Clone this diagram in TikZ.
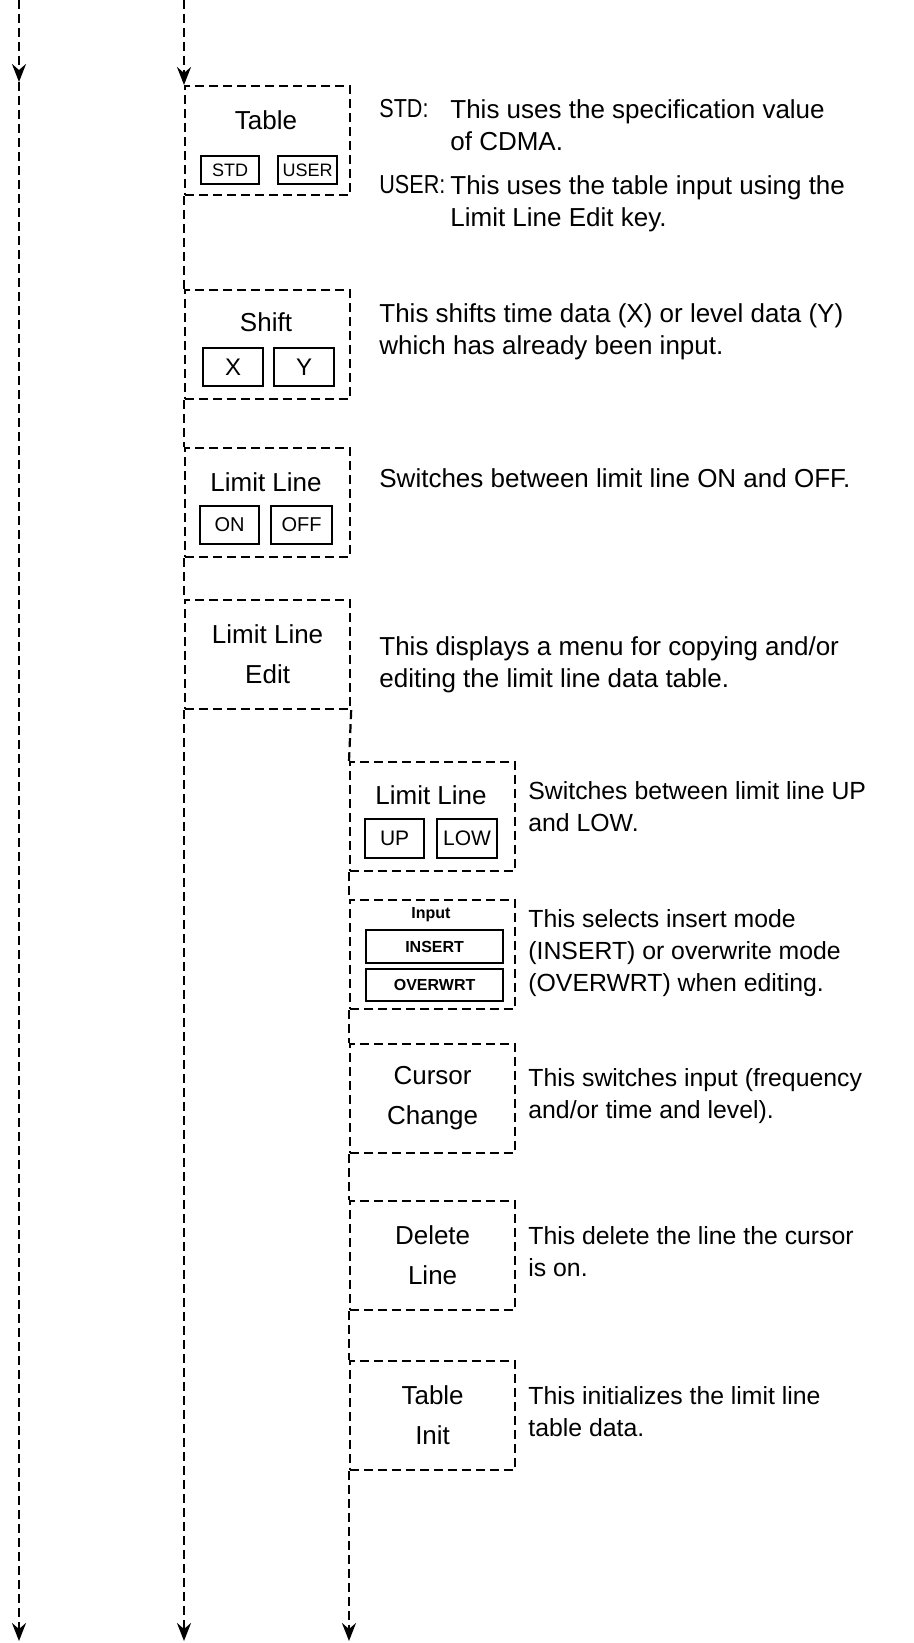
\documentclass[tikz,border=0pt]{standalone}
\usepackage{fontspec}
\setmainfont{Liberation Sans}
\newfontfamily\keyfont[FakeStretch=0.83]{Liberation Sans}
\usetikzlibrary{arrows.meta}

\tikzset{
  menubox/.style={draw, line width=1.1pt, dash pattern=on 4.5pt off 2.5pt,
    minimum width=82.5pt, minimum height=54.5pt, inner sep=0pt, anchor=north west},
  keybox/.style={draw, solid, line width=1.1pt, inner sep=0pt, anchor=north west},
  flow/.style={line width=1.1pt, dash pattern=on 4.5pt off 2.5pt},
  flowarrow/.style={flow, -{Stealth[length=9pt,width=7pt,inset=3pt]}},
  boxlabel/.style={font=\fontsize{13}{20}\selectfont, align=center},
  desc/.style={font=\fontsize{13}{16}\selectfont, align=left, anchor=north west, inner sep=0pt},
  subdesc/.style={desc, font=\fontsize{12.4}{16}\selectfont}
}

\begin{document}
\begin{tikzpicture}[x=0.5pt,y=-0.5pt]
  \useasboundingbox (0,0) rectangle (914,1643);

  % outer flow lines
  \coordinate (l0) at (19,0);
  \coordinate (l1) at (19,82);
  \coordinate (l2) at (19,1641);
  \coordinate (m0) at (184,0);
  \coordinate (m2) at (184,1641);
  \coordinate (r2) at (349,1641);

  % first level menu
  \node[menubox] (tbl) at (184,85) {};
  \node[boxlabel] (tbltxt) at (266,120) {Table};
  \node[keybox, minimum width=29pt, minimum height=14pt, font=\fontsize{9}{9}\selectfont] (std) at (200,155) {STD};
  \node[keybox, minimum width=29.5pt, minimum height=14pt, font=\fontsize{9}{9}\selectfont] (user) at (277,155) {USER};

  \node[menubox] (shft) at (184,289) {};
  \node[boxlabel] (shfttxt) at (266,322) {Shift};
  \node[keybox, minimum width=30pt, minimum height=19pt, font=\fontsize{12}{12}\selectfont] (xkey) at (202,347) {X};
  \node[keybox, minimum width=30pt, minimum height=19pt, font=\fontsize{12}{12}\selectfont] (ykey) at (273,347) {Y};

  \node[menubox] (onoff) at (184,447) {};
  \node[boxlabel] (onofftxt) at (266,482) {Limit Line};
  \node[keybox, minimum width=29.5pt, minimum height=19pt, font=\fontsize{10}{10}\selectfont] (on) at (199,505) {ON};
  \node[keybox, minimum width=30.5pt, minimum height=19pt, font=\fontsize{10}{10}\selectfont] (off) at (270,505) {OFF};

  \node[menubox] (lle) at (184,599) {};
  \node[boxlabel] (lletxt) at (lle.center) {Limit Line\\Edit};

  % edit sub menu
  \node[menubox] (updown) at (349,761) {};
  \node[boxlabel] (updowntxt) at (431,795) {Limit Line};
  \node[keybox, minimum width=29.5pt, minimum height=19.5pt, font=\fontsize{10.5}{10.5}\selectfont] (up) at (364,818) {UP};
  \node[keybox, minimum width=30pt, minimum height=19.5pt, font=\fontsize{10.5}{10.5}\selectfont] (low) at (436,818) {LOW};

  \node[menubox] (inmode) at (349,899) {};
  \node[font=\fontsize{8}{8}\selectfont\bfseries] (inmodetxt) at (431,915) {Input};
  \node[keybox, minimum width=68.5pt, minimum height=16.5pt, font=\fontsize{8}{8}\selectfont\bfseries] (insert) at (365,929) {INSERT};
  \node[keybox, minimum width=68.5pt, minimum height=16pt, font=\fontsize{8}{8}\selectfont\bfseries] (ovwrt) at (365,968) {OVERWRT};

  \node[menubox] (cursor) at (349,1043) {};
  \node[boxlabel] (cursortxt) at (cursor.center) {Cursor\\Change};

  \node[menubox] (dline) at (349,1200) {};
  \node[boxlabel] (dlinetxt) at (dline.center) {Delete\\Line};

  \node[menubox] (tinit) at (349,1360) {};
  \node[boxlabel] (tinittxt) at (tinit.center) {Table\\Init};

  % connectors
  \draw[flowarrow] (l0) -- (l1);
  \draw[flowarrow] (l1) -- (l2);
  \draw[flowarrow] (m0) -- (tbl.north west);
  \draw[flow] (tbl.south west) -- (shft.north west);
  \draw[flow] (shft.south west) -- (onoff.north west);
  \draw[flow] (onoff.south west) -- (lle.north west);
  \draw[flowarrow] (lle.south west) -- (m2);
  \draw[flow] (lle.south east) -- (updown.north west);
  \draw[flow] (updown.south west) -- (inmode.north west);
  \draw[flow] (inmode.south west) -- (cursor.north west);
  \draw[flow] (cursor.south west) -- (dline.north west);
  \draw[flow] (dline.south west) -- (tinit.north west);
  \draw[flowarrow] (tinit.south west) -- (r2);

  % descriptions
  \node[desc, font=\fontsize{13}{16}\keyfont] (stdkey) at (379,99) {STD:};
  \node[desc] (stddesc) at (450,99) {This uses the specification value\\of CDMA.};
  \node[desc, font=\fontsize{13}{16}\keyfont] (userkey) at (379,175) {USER:};
  \node[desc] (userdesc) at (450,175) {This uses the table input using the\\Limit Line Edit key.};
  \node[desc] (shftdesc) at (379,303) {This shifts time data (X) or level data (Y)\\which has already been input.};
  \node[desc] (onoffdesc) at (379,468) {Switches between limit line ON and OFF.};
  \node[desc] (lledesc) at (379,636) {This displays a menu for copying and/or\\editing the limit line data table.};
  \node[subdesc] (updowndesc) at (528,781) {Switches between limit line UP\\and LOW.};
  \node[subdesc] (inmodedesc) at (528,909) {This selects insert mode\\(INSERT) or overwrite mode\\(OVERWRT) when editing.};
  \node[subdesc] (cursordesc) at (528,1068) {This switches input (frequency\\and/or time and level).};
  \node[subdesc] (dlinedesc) at (528,1226) {This delete the line the cursor\\is on.};
  \node[subdesc] (tinitdesc) at (528,1386) {This initializes the limit line\\table data.};
\end{tikzpicture}
\end{document}
